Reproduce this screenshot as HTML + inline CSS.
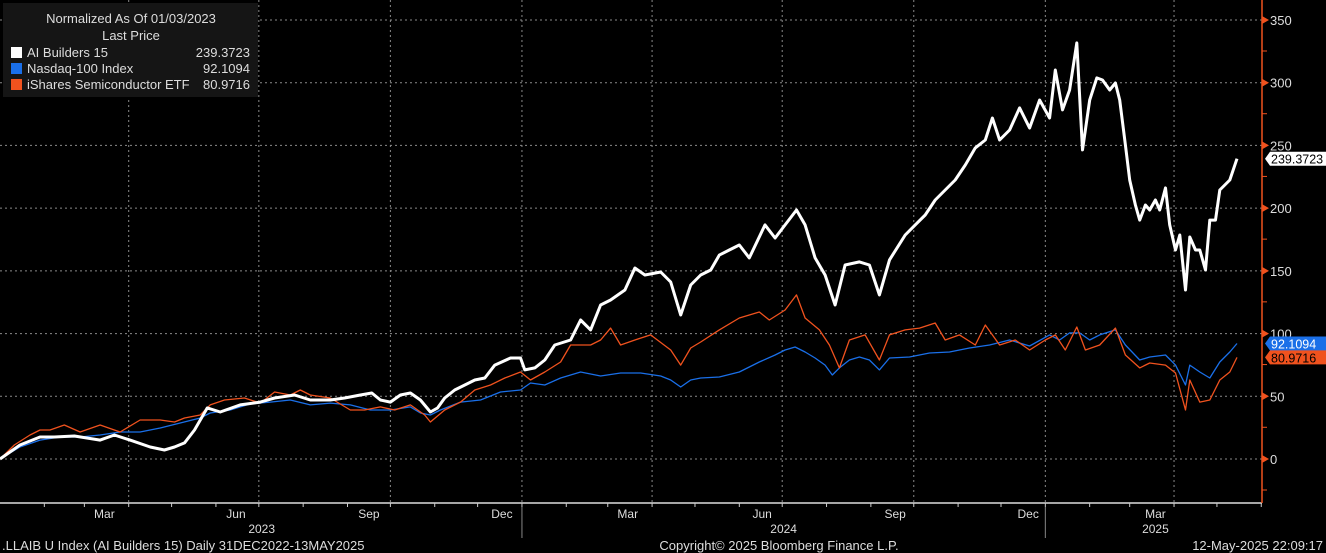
<!DOCTYPE html>
<html><head><meta charset="utf-8"><style>
html,body{margin:0;padding:0;background:#000;}
svg{display:block;font-family:"Liberation Sans",sans-serif;}
</style></head><body>
<svg id="chart" width="1326" height="553" viewBox="0 0 1326 553" xmlns="http://www.w3.org/2000/svg">
<rect x="0" y="0" width="1326" height="553" fill="#000"/>
<g id="grid"></g>
<g id="series"></g>
<g id="axes"></g>
<g>
  <rect x="3" y="3" width="255" height="94" fill="#151515"/>
  <text x="131" y="23" fill="#ddd" font-size="13" text-anchor="middle">Normalized As Of 01/03/2023</text>
  <text x="131" y="40" fill="#ddd" font-size="13" text-anchor="middle">Last Price</text>
  <g><rect x="11" y="47" width="11" height="11" fill="#fff"/><text x="27" y="57" fill="#ddd" font-size="13">AI Builders 15</text><text x="250" y="57" fill="#ddd" font-size="13" text-anchor="end">239.3723</text></g>
  <g><rect x="11" y="63" width="11" height="11" fill="#1a6fe8"/><text x="27" y="73" fill="#ddd" font-size="13">Nasdaq-100 Index</text><text x="250" y="73" fill="#ddd" font-size="13" text-anchor="end">92.1094</text></g>
  <g><rect x="11" y="79" width="11" height="11" fill="#f0521e"/><text x="27" y="89" fill="#ddd" font-size="13">iShares Semiconductor ETF</text><text x="250" y="89" fill="#ddd" font-size="13" text-anchor="end">80.9716</text></g>
</g>
<text x="2" y="550" fill="#ddd" font-size="13">.LLAIB U Index (AI Builders 15)  Daily 31DEC2022-13MAY2025</text>
<text x="779" y="550" fill="#ddd" font-size="13" text-anchor="middle">Copyright© 2025 Bloomberg Finance L.P.</text>
<text x="1323" y="550" fill="#ddd" font-size="13" text-anchor="end">12-May-2025 22:09:17</text>
</svg>
<script>
const yTicks = [0, 50, 100, 150, 200, 250, 300, 350];
const quarterDays = [90, 181, 273, 365, 456, 547, 639, 731, 821];
const monthLabels = ["Mar","Jun","Sep","Dec","Mar","Jun","Sep","Dec","Mar"];
const monthLabelDays = [73, 165, 258, 351, 439, 533, 626, 719, 808];
const yearLabels = ["2023","2024","2025"];
const yearLabelDays = [183, 548, 808];
const aiDays = [0,14,28,38,52,70,80,91,105,115,122,129,136,145,154,168,182,192,206,217,231,241,252,260,266,273,280,287,294,301,306,311,318,325,332,339,346,357,364,367,374,381,388,399,406,413,420,427,437,444,451,462,469,476,483,490,497,503,510,517,524,535,542,549,557,563,570,577,584,591,601,608,615,622,633,640,647,654,661,668,675,682,689,694,699,706,713,720,727,734,738,743,748,753,757,762,767,771,776,780,783,787,790,794,797,801,804,808,811,815,818,822,825,829,832,836,839,843,846,850,853,860,865];
const aiValues = [0,11.2,17.5,17.5,18.3,15.1,19.1,15.1,9.6,7.2,9.6,12.8,23.1,40.7,37.5,43.1,45.4,48.6,51.0,47.0,47.0,48.6,51.0,52.6,47.0,45.4,51.0,52.6,47.0,37.5,40.7,48.6,55.0,59.0,63.0,64.6,74.9,80.5,80.5,71.0,72.6,78.9,90.9,94.9,110.8,102.9,122.8,126.8,134.7,152.3,146.7,149.1,141.1,114.8,138.7,146.7,150.7,162.6,166.6,170.6,160.3,186.6,176.2,186.6,198.5,186.6,160.3,146.7,122.8,154.7,157.1,154.7,130.8,158.7,178.6,186.6,194.5,206.5,214.5,222.4,234.4,248.0,254.3,271.9,254.3,262.3,279.9,263.9,286.2,271.9,310.1,278.3,294.2,331.7,246.4,286.2,303.8,302.2,294.2,299.8,286.2,250.4,222.4,202.5,190.5,202.5,198.5,206.5,198.5,216.1,186.6,166.6,178.6,134.7,177.0,166.6,166.6,150.7,190.5,190.5,214.5,222.4,239.4];
const ndxDays = [0,14,28,42,56,70,84,98,112,126,140,147,161,175,189,203,217,231,245,259,273,287,294,301,308,322,336,350,364,371,381,392,406,420,434,448,462,469,476,483,490,503,517,531,542,549,556,563,570,577,582,587,594,601,608,615,622,636,650,664,678,692,706,720,734,741,748,755,762,769,780,787,797,804,815,822,829,832,839,846,853,860,865];
const ndxValues = [0,9.6,15.1,17.5,17.5,19.1,21.5,21.5,24.7,28.7,32.7,36.7,39.1,43.9,45.4,47.0,43.1,44.6,43.1,39.1,39.1,41.5,36.7,35.1,39.1,45.4,47.0,53.4,55.0,60.6,59.0,64.6,69.4,66.2,68.6,68.6,66.2,63.0,57.4,63.0,64.6,65.4,69.4,77.3,82.9,86.9,89.3,85.3,80.5,74.9,67.0,72.6,78.9,81.3,78.9,71.0,80.5,81.3,84.5,85.3,88.5,90.9,94.9,90.1,98.9,94.9,100.5,100.5,94.9,98.9,102.9,90.9,78.9,81.3,82.9,74.9,59.0,74.9,69.4,64.6,77.3,85.3,92.1];
const soxDays = [0,10,21,28,35,45,56,70,84,98,112,122,129,140,147,157,171,182,192,203,210,217,231,245,255,266,276,287,297,301,311,322,332,343,353,364,371,381,392,399,413,420,427,434,444,455,469,476,483,490,503,517,531,538,549,557,563,573,580,587,594,605,615,622,633,643,654,661,671,682,689,699,710,720,731,738,745,753,759,769,780,787,797,804,815,822,829,832,839,846,853,860,865];
const soxValues = [0,11.2,19.1,23.1,23.1,27.1,21.5,27.1,21.5,31.1,31.1,29.5,32.7,35.1,43.1,47.0,48.6,44.6,53.4,51.0,55.0,51.0,48.6,39.1,39.1,41.5,39.1,43.1,35.1,29.5,39.1,45.4,55.0,59.0,64.6,69.4,63.0,69.4,77.3,90.9,90.9,94.9,104.4,90.9,94.9,98.9,86.9,74.9,88.5,93.3,102.9,112.4,117.2,110.8,118.8,130.8,112.4,102.9,90.9,72.6,94.9,98.9,78.9,98.9,102.9,104.4,108.4,94.9,98.9,90.9,106.8,90.9,94.9,86.9,94.9,98.9,86.9,105.2,86.9,90.9,104.4,82.9,72.6,76.5,74.9,68.6,39.1,63.0,45.4,47.0,63.0,69.4,81.0];

const NS = "http://www.w3.org/2000/svg";
const PX_PER_DAY = 1.43, Y0 = 459, PX_PER_UNIT = 1.2543, AXIS_X = 1262, AXIS_Y = 503;
function xs(d){ return d * PX_PER_DAY; }
function ys(v){ return Y0 - v * PX_PER_UNIT; }
function mk(tag, attrs, parent){ const e = document.createElementNS(NS, tag); for (const k in attrs) e.setAttribute(k, attrs[k]); parent.appendChild(e); return e; }

const grid = document.getElementById('grid');
const axes = document.getElementById('axes');
const series = document.getElementById('series');

yTicks.forEach(v => {
  const l = mk('line', {x1:0, x2:AXIS_X, y1:ys(v), y2:ys(v), stroke:'#8a8a8a', 'stroke-width':1, 'stroke-dasharray':'2,3'}, grid);
  
  
});
quarterDays.forEach(d => {
  const l = mk('line', {x1:xs(d), x2:xs(d), y1:0, y2:AXIS_Y, stroke:'#8a8a8a', 'stroke-width':1, 'stroke-dasharray':'2,3'}, grid);
  
  
});

function drawLine(days, vals, color, w, name){
  const d = days.map((dd,i) => (i ? 'L' : 'M') + xs(dd).toFixed(1) + ',' + ys(vals[i]).toFixed(1)).join(' ');
  const p = mk('path', {d:d, fill:'none', stroke:color, 'stroke-width':w, 'stroke-linejoin':'round'}, series);
  
  
}
drawLine(ndxDays, ndxValues, '#1a6fe8', 1.3, 'nasdaq-100-line');
drawLine(soxDays, soxValues, '#f0521e', 1.3, 'semiconductor-etf-line');
drawLine(aiDays, aiValues, '#ffffff', 3, 'ai-builders-line');

const ax = mk('line', {x1:0, x2:AXIS_X, y1:AXIS_Y, y2:AXIS_Y, stroke:'#ddd', 'stroke-width':1.5}, axes);


const ay = mk('line', {x1:AXIS_X, x2:AXIS_X, y1:0, y2:AXIS_Y, stroke:'#f0521e', 'stroke-width':1.5}, axes);


yTicks.forEach(v => {
  const y = ys(v);
  mk('path', {d:`M${AXIS_X},${y-4} L${AXIS_X+7},${y} L${AXIS_X},${y+4} Z`, fill:'#f0521e'}, axes);
  const t = mk('text', {x:AXIS_X+8, y:y+5, fill:'#ddd', 'font-size':13}, axes);
  t.textContent = v;
  
  
  mk('line', {x1:AXIS_X, x2:AXIS_X+5, y1:y+31, y2:y+31, stroke:'#f0521e'}, axes);
});
for (let m = 1; m <= 29; m++){
  const yr = 2023 + Math.floor(m/12), mo = m % 12;
  const d = Math.round((Date.UTC(yr, mo, 1) - Date.UTC(2023,0,1)) / 86400000);
  mk('line', {x1:xs(d), x2:xs(d), y1:AXIS_Y, y2:AXIS_Y+4, stroke:'#ccc'}, axes);
}
monthLabels.forEach((lab,i) => {
  const t = mk('text', {x:xs(monthLabelDays[i]), y:518, fill:'#ddd', 'font-size':12, 'text-anchor':'middle'}, axes);
  t.textContent = lab;
  
  
});
yearLabels.forEach((lab,i) => {
  const t = mk('text', {x:xs(yearLabelDays[i]), y:533, fill:'#ddd', 'font-size':12, 'text-anchor':'middle'}, axes);
  t.textContent = lab;
  
  
});
[365, 731].forEach(d => mk('line', {x1:xs(d), x2:xs(d), y1:AXIS_Y+4, y2:538, stroke:'#888'}, axes));

function tag(v, txt, bg, fg, name){
  const y = ys(v);
  mk('path', {d:`M${AXIS_X+3},${y} L${AXIS_X+8},${y-7} L1326,${y-7} L1326,${y+7} L${AXIS_X+8},${y+7} Z`, fill:bg}, axes);
  const t = mk('text', {x:AXIS_X+9, y:y+5, fill:fg, 'font-size':12.5}, axes);
  t.textContent = txt;
  
  
}
tag(aiValues[aiValues.length-1], '239.3723', '#fff', '#000', 'ai-builders-last-tag');
tag(ndxValues[ndxValues.length-1], '92.1094', '#1a6fe8', '#fff', 'nasdaq-last-tag');
tag(soxValues[soxValues.length-1], '80.9716', '#f0521e', '#000', 'semis-last-tag');
</script>
</body></html>
